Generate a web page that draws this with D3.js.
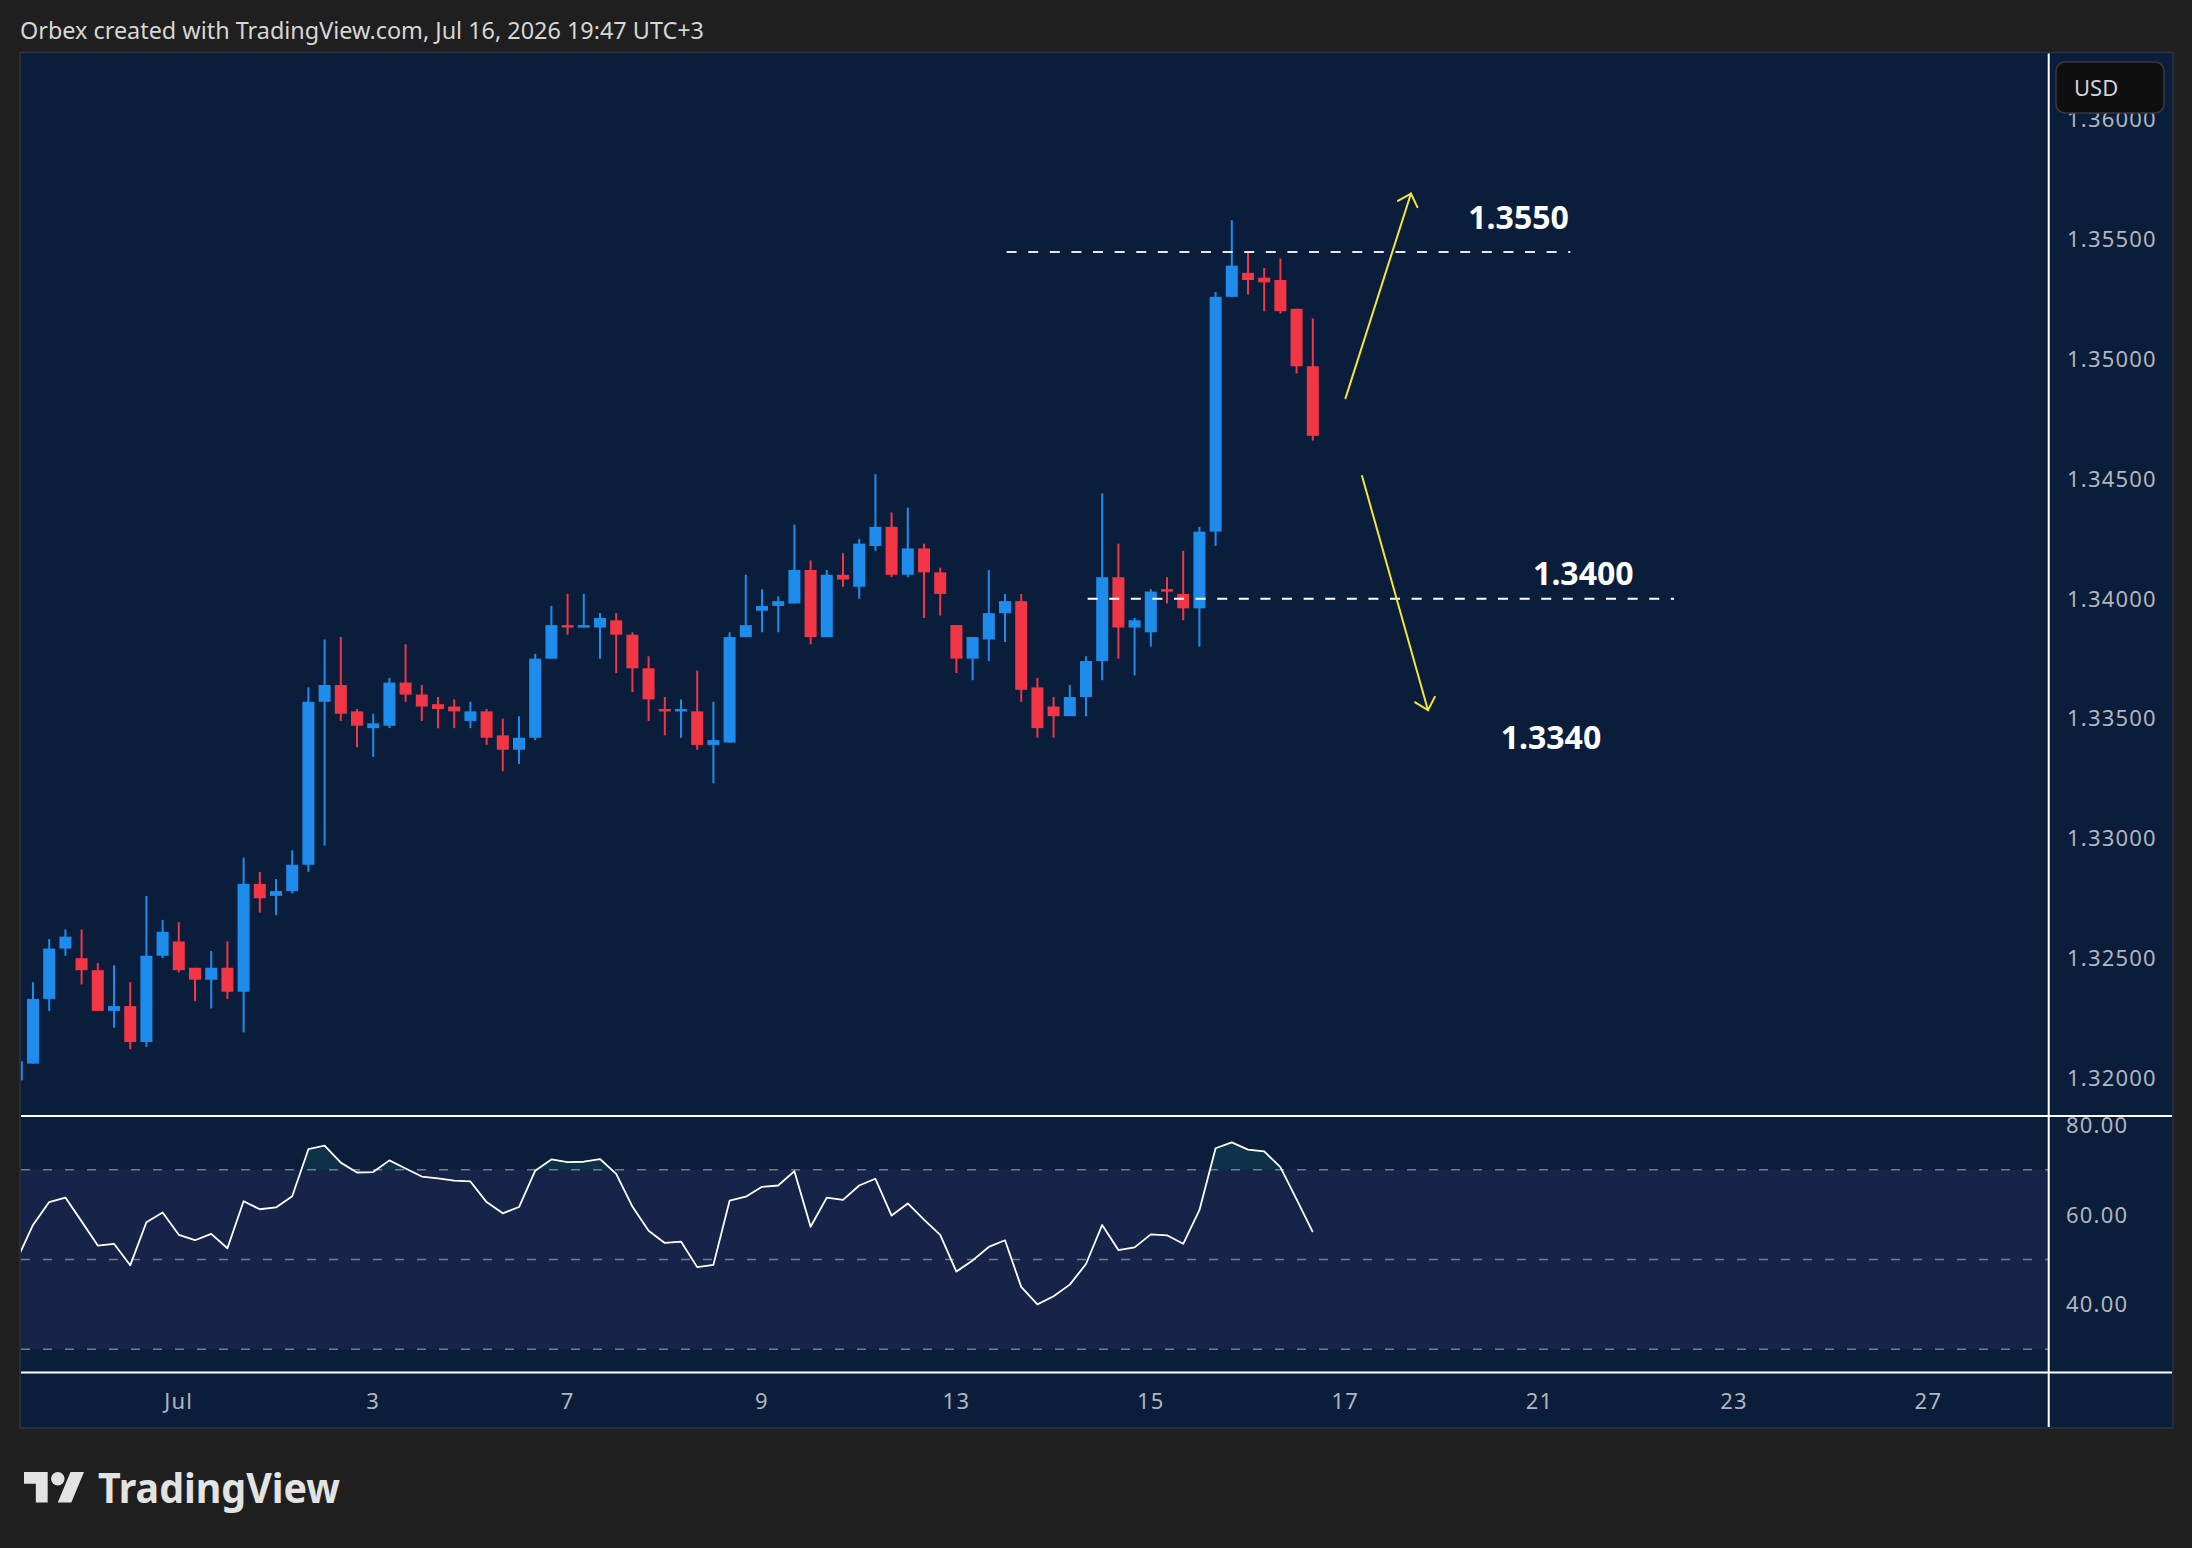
<!DOCTYPE html>
<html lang="en">
	<head>
		<meta charset="utf-8">
		<title>GBPUSD 4H with RSI</title>
		<script src="https://d3js.org/d3.v7.min.js"></script>
		<style type="text/css">
			html, body { margin: 0; padding: 0; background: #1f1f1f; }
			svg { display: block; }
			text { font-family: "Noto Sans", "DejaVu Sans", sans-serif; }
		</style>
	</head>
	<body>
<div id="chart"></div>
		<script type="text/javascript">
// 4H candles (bar 0 is cut by the left edge)
var opens  = [1.3199,1.3206,1.3233,1.3254,1.3250,1.3245,1.3228,1.3230,1.3215,1.3251,
              1.3257,1.3246,1.3241,1.3246,1.3236,1.3281,1.3276,1.3278,1.3289,1.3357,
              1.3364,1.3353,1.3346,1.3347,1.3365,1.3360,1.3356,1.3355,1.3349,1.3353,
              1.3343,1.3337,1.3342,1.3375,1.3389,1.3388,1.3388,1.3391,1.3385,1.3371,
              1.3354,1.3353,1.3353,1.3339,1.3340,1.3384,1.3395,1.3397,1.3398,1.3412,
              1.3384,1.3410,1.3405,1.3422,1.3430,1.3410,1.3421,1.3411,1.3389,1.3375,
              1.3383,1.3394,1.3399,1.3363,1.3355,1.3351,1.3359,1.3374,1.3409,1.3388,
              1.3386,1.3404,1.3402,1.3396,1.3428,1.3526,1.3536,1.3534,1.3533,1.3521,
              1.3497];
var highs  = [1.3209,1.3240,1.3258,1.3262,1.3262,1.3248,1.3247,1.3240,1.3276,1.3266,
              1.3265,1.3246,1.3253,1.3257,1.3292,1.3286,1.3283,1.3295,1.3363,1.3383,
              1.3384,1.3354,1.3352,1.3367,1.3381,1.3364,1.3359,1.3358,1.3357,1.3354,
              1.3350,1.3351,1.3377,1.3397,1.3402,1.3402,1.3394,1.3394,1.3386,1.3376,
              1.3359,1.3358,1.3370,1.3357,1.3386,1.3410,1.3404,1.3401,1.3431,1.3416,
              1.3412,1.3419,1.3425,1.3452,1.3436,1.3438,1.3423,1.3413,1.3389,1.3384,
              1.3412,1.3402,1.3402,1.3367,1.3359,1.3364,1.3376,1.3444,1.3423,1.3392,
              1.3404,1.3409,1.3420,1.3430,1.3528,1.3558,1.3545,1.3538,1.3542,1.3521,
              1.3517];
var lows   = [1.3197,1.3206,1.3228,1.3251,1.3239,1.3228,1.3221,1.3212,1.3213,1.3250,
              1.3244,1.3232,1.3229,1.3233,1.3219,1.3269,1.3268,1.3277,1.3286,1.3297,
              1.3349,1.3338,1.3334,1.3346,1.3357,1.3349,1.3346,1.3346,1.3346,1.3339,
              1.3328,1.3331,1.3341,1.3375,1.3385,1.3388,1.3375,1.3369,1.3361,1.3349,
              1.3343,1.3342,1.3337,1.3323,1.3340,1.3384,1.3386,1.3386,1.3398,1.3381,
              1.3384,1.3405,1.3400,1.3420,1.3409,1.3409,1.3392,1.3393,1.3369,1.3366,
              1.3374,1.3382,1.3357,1.3342,1.3342,1.3351,1.3351,1.3366,1.3375,1.3368,
              1.3380,1.3398,1.3391,1.3380,1.3422,1.3526,1.3527,1.3520,1.3519,1.3494,
              1.3466];
var closes = [1.3207,1.3233,1.3254,1.3259,1.3245,1.3228,1.3230,1.3215,1.3251,1.3261,
              1.3245,1.3241,1.3246,1.3236,1.3281,1.3275,1.3278,1.3289,1.3357,1.3364,
              1.3352,1.3347,1.3348,1.3365,1.3360,1.3355,1.3354,1.3353,1.3353,1.3342,
              1.3337,1.3342,1.3375,1.3389,1.3388,1.3389,1.3392,1.3385,1.3371,1.3358,
              1.3353,1.3354,1.3339,1.3341,1.3384,1.3389,1.3397,1.3399,1.3412,1.3384,
              1.3410,1.3408,1.3423,1.3430,1.3410,1.3421,1.3411,1.3402,1.3375,1.3384,
              1.3394,1.3399,1.3362,1.3346,1.3351,1.3359,1.3374,1.3409,1.3388,1.3391,
              1.3403,1.3403,1.3396,1.3428,1.3526,1.3539,1.3533,1.3532,1.3520,1.3497,
              1.3468];

// RSI(14)
var rsi = [49.9,57.7,62.8,63.8,58.5,53.1,53.5,48.7,58.3,60.5,
           55.5,54.3,55.7,52.5,63.0,61.2,61.6,64.1,74.6,75.4,
           71.6,69.4,69.5,72.1,70.3,68.5,68.1,67.6,67.4,62.8,
           60.3,61.7,69.8,72.3,71.7,71.8,72.4,69.1,61.8,56.4,
           53.7,54.0,48.3,48.8,63.1,64.0,66.2,66.5,69.7,57.3,
           63.8,63.3,66.5,68.0,59.8,62.5,58.9,55.5,47.3,49.8,
           52.8,54.3,43.9,40.0,41.8,44.4,49.0,57.7,52.1,52.7,
           55.6,55.4,53.5,61.0,74.8,76.1,74.5,74.1,70.6,63.4,
           56.1];

// axes
var timeTickBars   = [10, 22, 34, 46, 58, 70, 82, 94, 106, 118];
var timeTickLabels = ["Jul", "3", "7", "9", "13", "15", "17", "21", "23", "27"];
var priceTicks = [1.320, 1.325, 1.330, 1.335, 1.340, 1.345, 1.350, 1.355, 1.360];
var rsiTicks   = [40, 60, 80];
var rsiLevels  = [30, 50, 70];

// drawings: horizontal levels, labels, arrows (bar index, price)
var levelPrices = [1.35447, 1.3400];
var levelFrom   = [61.1, 66.1];
var levelTo     = [95.9, 102.3];
var noteTexts   = ["1.3550", "1.3400", "1.3340"];
var noteBars    = [92.7, 96.7, 94.7];
var notePrices  = [1.35589, 1.34107, 1.33419];
var arrowFrom   = [[82.02, 1.34837], [83.04, 1.34512]];
var arrowTo     = [[86.06, 1.35691], [87.11, 1.33535]];

//Width and height
var w = 2192;
var h = 1548;

var pane = {left: 21, right: 2048.7, top: 53.5, priceBottom: 1116, rsiBottom: 1372.5, bottom: 1427, axisRight: 2172};

var navy = "#0a1e3b";
var up = "#1e8ceb";
var down = "#f23645";
var axisText = "#b2b5be";

//Create scale functions
var xScale = d3.scaleLinear()
	.domain([0, 125])
	.range([16.8, 16.8 + 16.2 * 125]);

var yScale = d3.scaleLinear()
	.domain([1.32, 1.355])
	.range([1078, 239.3]);

var rsiScale = d3.scaleLinear()
	.domain([30, 70])
	.range([1349.2, 1169.8]);

//Create SVG element
var svg = d3.select("#chart")
	.append("svg")
	.attr("width", w)
	.attr("height", h);

svg.append("rect")
	.attr("width", w).attr("height", h)
	.attr("fill", "#1f1f1f");

// title
svg.append("text")
	.attr("x", 20).attr("y", 39)
	.attr("font-size", 24)
	.attr("textLength", 684)
	.attr("lengthAdjust", "spacingAndGlyphs")
	.attr("fill", "#d6d6d6")
	.text("Orbex created with TradingView.com, Jul 16, 2026 19:47 UTC+3");

// chart panel
svg.append("rect")
	.attr("x", pane.left - 1).attr("y", pane.top - 1)
	.attr("width", pane.axisRight - pane.left + 2)
	.attr("height", pane.bottom - pane.top + 2)
	.attr("fill", navy)
	.attr("stroke", "#2e3240")
	.attr("stroke-width", 1.5);

var defs = svg.append("defs");
defs.append("clipPath").attr("id", "clipPrice")
	.append("rect")
	.attr("x", pane.left).attr("y", pane.top)
	.attr("width", pane.right - pane.left)
	.attr("height", pane.priceBottom - pane.top);
defs.append("clipPath").attr("id", "clipRsi")
	.append("rect")
	.attr("x", pane.left).attr("y", pane.priceBottom)
	.attr("width", pane.right - pane.left)
	.attr("height", pane.rsiBottom - pane.priceBottom);
defs.append("clipPath").attr("id", "clipOb")
	.append("rect")
	.attr("x", pane.left).attr("y", pane.priceBottom)
	.attr("width", pane.right - pane.left)
	.attr("height", rsiScale(70) - pane.priceBottom);
var grad = defs.append("linearGradient").attr("id", "obFill")
	.attr("x1", 0).attr("y1", 0).attr("x2", 0).attr("y2", 1);
grad.append("stop").attr("offset", "0%").attr("stop-color", "#26a69a").attr("stop-opacity", 0.16);
grad.append("stop").attr("offset", "100%").attr("stop-color", "#26a69a").attr("stop-opacity", 0.02);

// ---- price pane ----
var bars = d3.range(opens.length);
var price = svg.append("g").attr("clip-path", "url(#clipPrice)");

price.selectAll("line.wick")
	.data(bars)
	.enter()
	.append("line")
	.attr("class", "wick")
	.attr("x1", i => xScale(i)).attr("x2", i => xScale(i))
	.attr("y1", i => yScale(highs[i]))
	.attr("y2", i => yScale(lows[i]))
	.attr("stroke", i => closes[i] >= opens[i] ? up : down)
	.attr("stroke-width", 2);

price.selectAll("rect.body")
	.data(bars)
	.enter()
	.append("rect")
	.attr("class", "body")
	.attr("x", i => xScale(i) - 6)
	.attr("width", 12)
	.attr("y", i => yScale(Math.max(opens[i], closes[i])))
	.attr("height", i => Math.max(2.5, Math.abs(yScale(opens[i]) - yScale(closes[i]))))
	.attr("fill", i => closes[i] >= opens[i] ? up : down);

// level lines
levelPrices.forEach(function(p, k) {
	price.append("line")
		.attr("x1", xScale(levelFrom[k])).attr("x2", xScale(levelTo[k]))
		.attr("y1", yScale(p)).attr("y2", yScale(p))
		.attr("stroke", k == 0 ? "#e6e6e6" : "#ffffff")
		.attr("stroke-width", 2)
		.attr("stroke-dasharray", "10,11.6");
});

// level labels
noteTexts.forEach(function(t, k) {
	price.append("text")
		.attr("x", xScale(noteBars[k]))
		.attr("y", yScale(notePrices[k]))
		.attr("dy", "0.36em")
		.attr("text-anchor", "middle")
		.attr("font-size", 32)
		.attr("font-weight", 700)
		.attr("fill", "#ffffff")
		.text(t);
});

// arrows
arrowFrom.forEach(function(a, k) {
	var x0 = xScale(a[0]), y0 = yScale(a[1]);
	var x1 = xScale(arrowTo[k][0]), y1 = yScale(arrowTo[k][1]);
	var ang = Math.atan2(y0 - y1, x0 - x1);
	var len = 15, spread = 0.75;
	var g = price.append("g")
		.attr("stroke", "#f5e43a")
		.attr("stroke-width", 2)
		.attr("fill", "none")
		.attr("stroke-linecap", "round");
	g.append("line").attr("x1", x0).attr("y1", y0).attr("x2", x1).attr("y2", y1);
	g.append("path")
		.attr("d", "M" + (x1 + len * Math.cos(ang + spread)) + "," + (y1 + len * Math.sin(ang + spread)) +
			"L" + x1 + "," + y1 +
			"L" + (x1 + len * Math.cos(ang - spread)) + "," + (y1 + len * Math.sin(ang - spread)));
});

// ---- RSI pane ----
var rsiG = svg.append("g").attr("clip-path", "url(#clipRsi)");

rsiG.append("rect")
	.attr("x", pane.left).attr("width", pane.right - pane.left)
	.attr("y", rsiScale(70)).attr("height", rsiScale(30) - rsiScale(70))
	.attr("fill", "#172449");

rsiG.selectAll("line.level")
	.data(rsiLevels)
	.enter()
	.append("line")
	.attr("class", "level")
	.attr("x1", pane.left).attr("x2", pane.right)
	.attr("y1", d => rsiScale(d)).attr("y2", d => rsiScale(d))
	.attr("stroke", "#787b86")
	.attr("stroke-width", 1.6)
	.attr("stroke-dasharray", "9,13");

rsiG.append("path")
	.datum(rsi)
	.attr("clip-path", "url(#clipOb)")
	.attr("fill", "url(#obFill)")
	.attr("d", d3.area()
		.x((d, i) => xScale(i))
		.y0(rsiScale(70))
		.y1(d => rsiScale(d)));

rsiG.append("path")
	.datum(rsi)
	.attr("fill", "none")
	.attr("stroke", "#ffffff")
	.attr("stroke-width", 1.8)
	.attr("stroke-linejoin", "round")
	.attr("d", d3.line()
		.x((d, i) => xScale(i))
		.y(d => rsiScale(d)));

// ---- axes ----
var axisG = svg.append("g")
	.attr("font-size", 22)
	.attr("letter-spacing", "1.2px")
	.attr("fill", axisText);

axisG.selectAll("text.price")
	.data(priceTicks)
	.enter()
	.append("text")
	.attr("class", "price")
	.attr("x", 2067)
	.attr("y", d => yScale(d))
	.attr("dy", "0.36em")
	.text(d => d3.format(".5f")(d));

axisG.selectAll("text.rsi")
	.data(rsiTicks)
	.enter()
	.append("text")
	.attr("class", "rsi")
	.attr("x", 2066)
	.attr("y", d => rsiScale(d))
	.attr("dy", "0.36em")
	.text(d => d3.format(".2f")(d));

axisG.selectAll("text.time")
	.data(timeTickBars)
	.enter()
	.append("text")
	.attr("class", "time")
	.attr("x", d => xScale(d))
	.attr("y", 1401)
	.attr("dy", "0.36em")
	.attr("text-anchor", "middle")
	.text((d, k) => timeTickLabels[k]);

// separators
svg.append("line")
	.attr("x1", pane.right).attr("x2", pane.right)
	.attr("y1", pane.top).attr("y2", pane.bottom)
	.attr("stroke", "#ffffff").attr("stroke-width", 2);
[pane.priceBottom, pane.rsiBottom].forEach(function(yy) {
	svg.append("line")
		.attr("x1", pane.left).attr("x2", pane.axisRight)
		.attr("y1", yy).attr("y2", yy)
		.attr("stroke", "#ffffff").attr("stroke-width", 2);
});

// currency badge
svg.append("rect")
	.attr("x", 2056).attr("y", 62)
	.attr("width", 108).attr("height", 51)
	.attr("rx", 9)
	.attr("fill", "#0f0f0f")
	.attr("stroke", "#3a3a3a")
	.attr("stroke-width", 1.5);
svg.append("text")
	.attr("x", 2074).attr("y", 96)
	.attr("font-size", 22)
	.attr("fill", "#d1d4dc")
	.text("USD");

// footer logo
var logo = svg.append("g")
	.attr("transform", "translate(24,1465.2) scale(1.69)")
	.attr("fill", "#e3e3e3");
logo.append("path").attr("d", "M14 22H7V11H0V4h14v18zM28 22h-8l7.5-18h8L28 22z");
logo.append("circle").attr("cx", 20).attr("cy", 8).attr("r", 4);

svg.append("text")
	.attr("x", 98).attr("y", 1503)
	.attr("font-size", 42)
	.attr("font-weight", 700)
	.attr("textLength", 242)
	.attr("lengthAdjust", "spacingAndGlyphs")
	.attr("fill", "#e3e3e3")
	.text("TradingView");

		</script>
	</body>
</html>
